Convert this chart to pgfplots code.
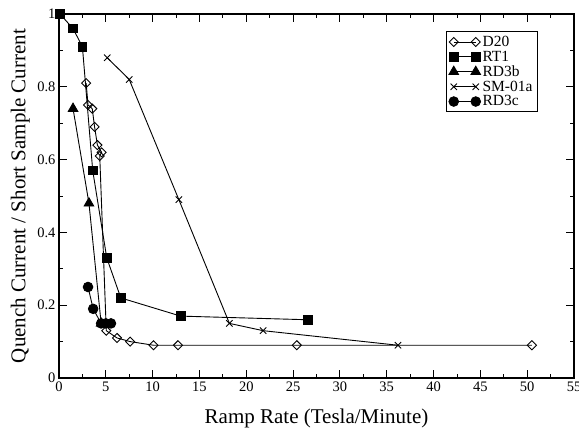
\documentclass[border=0pt]{standalone}
\usepackage{fontspec}
\setmainfont{Liberation Serif}
\usepackage{pgfplots}
\pgfplotsset{compat=1.18}
\usetikzlibrary{calc}
\newcommand{\lf}{\fontsize{15.5}{16}\selectfont}
\begin{document}
\begin{tikzpicture}
\begin{axis}[
 scale only axis, width=515pt, height=364pt,
 xmin=0, xmax=55, ymin=0, ymax=1,
 clip=false,
 xtick={0,5,...,55}, minor x tick num=1,
 ytick={0,0.2,0.4,0.6,0.8,1}, minor y tick num=1,
 tick align=inside, major tick length=8pt, minor tick length=4.5pt,
 axis line style={line width=1.1pt},
 tick style={line width=0.9pt, black},
 tick label style={font=\fontsize{14.5}{16}\selectfont},
 /pgf/number format/assume math mode=true,
 xlabel={Ramp Rate (Tesla/Minute)},
 ylabel={Quench Current / Short Sample Current},
 label style={font=\fontsize{21}{24}\selectfont},
 xlabel style={at={(axis description cs:0.5,-0.11)}, anchor=center},
 ylabel style={at={(axis description cs:-0.075,0.5)}, anchor=center},
 legend image code/.code={\draw[#1] plot coordinates {(0pt,0pt) (22pt,0pt)};},
 legend style={at={(0.93,0.953)}, anchor=north east, draw=black, line width=0.9pt,
   font=\lf, row sep=-1pt, inner xsep=3pt, inner ysep=2.5pt},
 legend cell align=left,
 every axis plot/.append style={black, line width=0.9pt},
]
\addplot[mark=square, mark size=3.2pt, mark options={rotate=45, fill=white, line width=0.9pt}]
 coordinates {(2.9,0.81)(3.1,0.75)(3.55,0.74)(3.8,0.69)(4.1,0.64)(4.55,0.62)(4.35,0.61)(5.05,0.13)(6.2,0.11)(7.6,0.10)(10.1,0.09)(12.7,0.09)(25.4,0.09)(50.5,0.09)};
\addlegendentry{D20}
\addplot[mark=square*, mark size=4.3pt]
 coordinates {(0.1,1.0)(1.5,0.96)(2.5,0.91)(3.6,0.57)(5.1,0.33)(6.6,0.22)(13.0,0.17)(26.6,0.16)};
\addlegendentry{RT1}
\addplot[mark=triangle*, mark size=5.5pt]
 coordinates {(1.5,0.74)(3.2,0.48)(4.5,0.15)};
\addlegendentry{RD3b}
\addplot[mark=x, mark size=4.5pt]
 coordinates {(5.15,0.88)(7.5,0.82)(12.8,0.49)(18.2,0.15)(21.8,0.13)(36.2,0.09)};
\addlegendentry{SM-01a}
\addplot[mark=*, mark size=4.8pt]
 coordinates {(3.1,0.25)(3.65,0.19)(4.5,0.15)(5.0,0.15)(5.55,0.15)};
\addlegendentry{RD3c}
\end{axis}
\pgfresetboundingbox
\path ($(current axis.south west)+(-59pt,-52pt)$) rectangle ($(current axis.north east)+(5pt,14pt)$);
\end{tikzpicture}
\end{document}
